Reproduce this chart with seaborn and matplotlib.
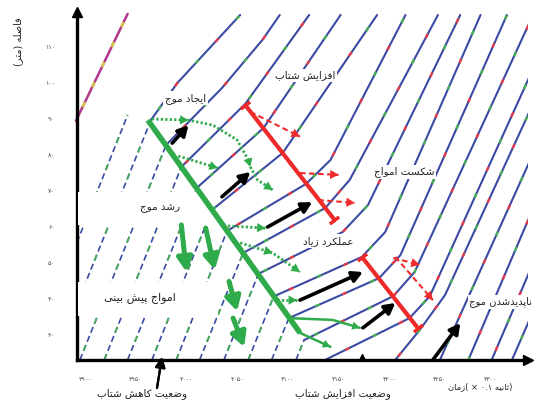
import matplotlib
matplotlib.use("Agg")
import matplotlib.pyplot as plt
from matplotlib.patches import Rectangle
from matplotlib.ticker import MultipleLocator
import pandas as pd
import seaborn as sns

# ---------------- vehicle trajectories: time (x0.1 s) and position (m) at path corners
traj_time = [
    [3846, 3942],
    [3870, 3965, 3991, 4053],
    [3895, 3980, 4035, 4075, 4092],
    [3919, 3995, 4058, 4121],
    [3942, 4010, 4076, 4152],
    [3966, 4025, 4095, 4188],
    [3990, 4040, 4118, 4142, 4216],
    [4013, 4056, 4137, 4161, 4248],
    [4037, 4071, 4154, 4179, 4270],
    [4061, 4086, 4173, 4196, 4290],
    [4084, 4101, 4190, 4211, 4316],
    [4108, 4116, 4204, 4225, 4339],
    [4137, 4220, 4240, 4339],
    [4206, 4230, 4255, 4339],
    [4250, 4339],
    [4278, 4339],
    [4301, 4339],
    [4321, 4339],
]
traj_dist = [
    [23.1, 91.1],
    [23.1, 89.7, 100.0, 118.9],
    [23.1, 82.8, 98.6, 112.0, 118.9],
    [23.1, 76.7, 94.2, 118.9],
    [23.1, 70.8, 87.5, 118.9],
    [23.1, 64.7, 80.6, 118.9],
    [23.1, 58.9, 72.0, 78.6, 118.9],
    [23.1, 52.8, 65.3, 73.1, 118.9],
    [23.1, 47.0, 58.6, 66.1, 118.9],
    [23.1, 40.7, 51.7, 58.6, 118.9],
    [23.1, 34.7, 45.8, 52.2, 118.9],
    [23.1, 28.6, 40.8, 47.5, 117.2],
    [23.1, 34.7, 40.8, 102.2],
    [23.1, 31.4, 41.1, 92.5],
    [23.1, 78.6],
    [23.1, 63.3],
    [23.1, 48.1],
    [23.1, 34.7],
]
# number of leading corners that lie on the approach (before the deceleration front)
approach_pts = [2, 2, 2, 2, 2, 2, 2, 2, 2, 2, 2, 2, 0, 0, 0, 0, 0, 0]

# second vehicle class
probe_time = [3891, 3942]
probe_dist = [89.5, 119.2]

# ---------------- wave fronts
decel_front_t = [3962, 4112]
decel_front_d = [89.7, 30.6]
accel_front_t = [[4058, 4146], [4173, 4228]]
accel_front_d = [[93.9, 62.0], [51.7, 32.0]]

# dotted growth paths leaving the deceleration front
spread_t = [[3966, 4002, 4026, 4050, 4061, 4063, 4070, 4085],
            [3992, 4031], [4041, 4078], [4053, 4085, 4112], [4089, 4109]]
spread_d = [[90.0, 89.7, 88.3, 84.2, 78.6, 76.7, 73.1, 70.3],
            [79.7, 76.4], [60.3, 59.7], [55.6, 52.8, 47.5], [39.7, 39.7]]
# thin solid green paths near the bottom of the front
tail_t = [[4101, 4144, 4171], [4112, 4142]]
tail_d = [[34.7, 34.2, 32.0], [30.6, 26.7]]

# predicted waves (green, downward)
pred_t0 = [3995, 4019, 4042, 4046]
pred_d0 = [60.6, 59.7, 44.9, 34.7]
pred_t1 = [4000, 4028, 4050, 4057]
pred_d1 = [47.5, 48.1, 36.6, 26.7]

# vehicle motion (black)
move_t0 = [3986, 4035, 4080, 4112, 4174, 4243]
move_d0 = [83.3, 68.4, 60.0, 39.7, 32.0, 23.1]
move_t1 = [4002, 4063, 4124, 4174, 4206, 4270]
move_d1 = [88.3, 75.3, 66.9, 47.5, 38.9, 33.3]

# wave break-up (red dashed)
break_t0 = [4063, 4112, 4130, 4206, 4204]
break_d0 = [92.0, 75.0, 67.5, 51.7, 51.4]
break_t1 = [4112, 4150, 4166, 4243, 4230]
break_d1 = [85.1, 74.5, 66.7, 39.7, 49.5]

xticks = [3900, 3950, 4000, 4050, 4100, 4150, 4200, 4250, 4300]
yticks = [30, 40, 50, 60, 70, 80, 90, 100, 110]

# ---------------- Persian text shaping (contextual forms, right-to-left)
FORMS = {
    "\u0627": ("\uFE8D", "\uFE8E"),
    "\u0628": ("\uFE8F", "\uFE90", "\uFE91", "\uFE92"),
    "\u067E": ("\uFB56", "\uFB57", "\uFB58", "\uFB59"),
    "\u062A": ("\uFE95", "\uFE96", "\uFE97", "\uFE98"),
    "\u062B": ("\uFE99", "\uFE9A", "\uFE9B", "\uFE9C"),
    "\u062C": ("\uFE9D", "\uFE9E", "\uFE9F", "\uFEA0"),
    "\u062F": ("\uFEA9", "\uFEAA"),
    "\u0631": ("\uFEAD", "\uFEAE"),
    "\u0632": ("\uFEAF", "\uFEB0"),
    "\u0633": ("\uFEB1", "\uFEB2", "\uFEB3", "\uFEB4"),
    "\u0634": ("\uFEB5", "\uFEB6", "\uFEB7", "\uFEB8"),
    "\u0635": ("\uFEB9", "\uFEBA", "\uFEBB", "\uFEBC"),
    "\u0636": ("\uFEBD", "\uFEBE", "\uFEBF", "\uFEC0"),
    "\u0639": ("\uFEC9", "\uFECA", "\uFECB", "\uFECC"),
    "\u0641": ("\uFED1", "\uFED2", "\uFED3", "\uFED4"),
    "\u06A9": ("\uFB8E", "\uFB8F", "\uFB90", "\uFB91"),
    "\u0644": ("\uFEDD", "\uFEDE", "\uFEDF", "\uFEE0"),
    "\u0645": ("\uFEE1", "\uFEE2", "\uFEE3", "\uFEE4"),
    "\u0646": ("\uFEE5", "\uFEE6", "\uFEE7", "\uFEE8"),
    "\u0647": ("\uFEE9", "\uFEEA", "\uFEEB", "\uFEEC"),
    "\u0648": ("\uFEED", "\uFEEE"),
    "\u06CC": ("\uFBFC", "\uFBFD", "\uFBFE", "\uFBFF"),
}


def shape(text):
    text = text.replace("\u064A", "\u06CC").replace("\u0643", "\u06A9")
    out = []
    for i, ch in enumerate(text):
        f = FORMS.get(ch)
        if f is None:
            out.append(ch)
            continue
        prev = text[i - 1] if i > 0 else ""
        nxt = text[i + 1] if i + 1 < len(text) else ""
        jp = prev in FORMS and len(FORMS[prev]) == 4
        jn = len(f) == 4 and nxt in FORMS
        out.append(f[3] if (jp and jn) else f[1] if jp else f[2] if jn else f[0])
    return "".join(out)


def rtl(text):
    return shape(text)[::-1].translate(str.maketrans("()", ")("))


def fa_num(v):
    return str(v).translate(str.maketrans("0123456789", "۰۱۲۳۴۵۶۷۸۹"))


# ---------------- figure
sns.set_theme(style="white")
plt.rcParams["font.family"] = ["DejaVu Sans"]
plt.rcParams["lines.scale_dashes"] = False

BLUE = "#3b4aa3"
RED = "#e23c4c"
GREEN = "#47ae55"
WAVE_GREEN = "#2fab4b"
WAVE_RED = "#ee2a2a"
INK = "#222222"

fig = plt.figure(figsize=(5.37, 4.01), dpi=100)
ax = fig.add_axes([77 / 537, 41 / 401, 451 / 537, 348 / 401])
ax.set_xlim(3892.1, 4336.8)
ax.set_ylim(23.06, 119.73)

app_rows, fol_rows = [], []
for k, (ts, ds) in enumerate(zip(traj_time, traj_dist)):
    n = approach_pts[k]
    for t, d in zip(ts[:n], ds[:n]):
        app_rows.append((k, t, d))
    s = max(n - 1, 0)
    if len(ts) - s >= 2:
        for t, d in zip(ts[s:], ds[s:]):
            fol_rows.append((k, t, d))
app_df = pd.DataFrame(app_rows, columns=["veh", "t", "d"])
fol_df = pd.DataFrame(fol_rows, columns=["veh", "t", "d"])

# approach legs: broken blue/green trace
sns.lineplot(data=app_df, x="t", y="d", units="veh", estimator=None, sort=False,
             color=BLUE, lw=1.2, linestyle=(0, (4.5, 2.5)), legend=False, ax=ax, zorder=2)
for k, g in app_df.groupby("veh"):
    ax.plot(g["t"], g["d"], color=GREEN, lw=1.3,
            linestyle=((k * 7) % 21, (4.5, 16.5)), zorder=2.1)

# remaining legs: blue with short acceleration-state marks
sns.lineplot(data=fol_df, x="t", y="d", units="veh", estimator=None, sort=False,
             color=BLUE, lw=1.5, legend=False, ax=ax, zorder=2)
for k, g in fol_df.groupby("veh"):
    off = (k * 13) % 43
    ax.plot(g["t"], g["d"], color=RED, lw=1.7, linestyle=(off, (3.5, 39.5)), zorder=2.1)
    ax.plot(g["t"], g["d"], color=GREEN, lw=1.7, linestyle=(off + 21, (3.5, 39.5)), zorder=2.1)

ax.plot(probe_time, probe_dist, color="#b0378e", lw=1.8, zorder=2, clip_on=False)
ax.plot(probe_time, probe_dist, color="#d8c64a", lw=1.9, linestyle=(5, (4, 12)), zorder=2.1,
        clip_on=False)

# white panels behind the two left captions
ax.add_patch(Rectangle((3893, 60.6), 132, 9.1, fc="white", ec="none", zorder=3))
ax.add_patch(Rectangle((3893, 35.3), 138, 9.4, fc="white", ec="none", zorder=3))


def head(p0, p1, color, scale, zo):
    ax.annotate("", xy=p1, xytext=p0, zorder=zo,
                arrowprops=dict(arrowstyle="-|>,head_length=0.55,head_width=0.3",
                                color=color, lw=0.01, shrinkA=0, shrinkB=0,
                                mutation_scale=scale))


def arrow(p0, p1, color, lw, scale, zo):
    ax.annotate("", xy=p1, xytext=p0, zorder=zo,
                arrowprops=dict(arrowstyle="-|>,head_length=0.55,head_width=0.3",
                                color=color, lw=lw, shrinkA=0, shrinkB=0,
                                mutation_scale=scale))


# wave fronts
ax.plot(decel_front_t, decel_front_d, color=WAVE_GREEN, lw=4.0, zorder=5,
        solid_capstyle="butt")
for ts, ds in zip(accel_front_t, accel_front_d):
    ax.plot(ts, ds, color=WAVE_RED, lw=3.0, zorder=5, solid_capstyle="butt")
    ax.plot(ts, ds, linestyle="none", marker=(2, 2, -52), ms=8, mew=2.2,
            color=WAVE_RED, zorder=5)

# green dotted growth paths
for ts, ds in zip(spread_t, spread_d):
    ax.plot(ts, ds, color=WAVE_GREEN, lw=2.0, linestyle=(0, (1.6, 1.6)), zorder=4)
    head((ts[-2], ds[-2]), (ts[-1], ds[-1]), WAVE_GREEN, 11, 4)
head((spread_t[0][0], spread_d[0][0]), (spread_t[0][1], spread_d[0][1]), WAVE_GREEN, 11, 4)
head((spread_t[0][4], spread_d[0][4]), (spread_t[0][5], spread_d[0][5]), WAVE_GREEN, 11, 4)
head((spread_t[3][0], spread_d[3][0]), (spread_t[3][1], spread_d[3][1]), WAVE_GREEN, 11, 4)

for ts, ds in zip(tail_t, tail_d):
    ax.plot(ts, ds, color=WAVE_GREEN, lw=1.8, zorder=4)
    head((ts[-2], ds[-2]), (ts[-1], ds[-1]), WAVE_GREEN, 10, 4)

for a, b, c, d in zip(pred_t0, pred_d0, pred_t1, pred_d1):
    arrow((a, b), (c, d), WAVE_GREEN, 3.6, 15, 6)

for a, b, c, d in zip(move_t0, move_d0, move_t1, move_d1):
    arrow((a, b), (c, d), "black", 2.6, 11, 6)

for a, b, c, d in zip(break_t0, break_d0, break_t1, break_d1):
    ax.plot([a, c], [b, d], color=WAVE_RED, lw=1.5, linestyle=(0, (4, 2.5)), zorder=5)
    head((a, b), (c, d), WAVE_RED, 11, 5)

# small marker on the time axis
ax.plot([4173], [23.8], marker="^", ms=4, color="black", zorder=6, clip_on=False)

# captions inside the plot
box = dict(boxstyle="square,pad=0.15", fc="white", ec="none")
cap = dict(fontsize=7.5, color=INK, ha="center", va="center", zorder=7)
ax.text(4117, 102.2, rtl("افزایش شتاب"), bbox=box, **cap)
ax.text(3999, 95.8, rtl("ایجاد موج"), bbox=box, **cap)
ax.text(4215, 75.3, rtl("شکست امواج"), bbox=box, **cap)
ax.text(3974, 65.3, rtl("رشد موج"), **cap)
ax.text(4140, 56.1, rtl("عملکرد زیاد"), bbox=box, **cap)
ax.text(3954, 40.3, rtl("امواج پیش بینی"), **{**cap, "fontsize": 8})
ax.text(4341, 39.2, rtl("ناپدیدشدن موج"), bbox=box, clip_on=False,
        **{**cap, "ha": "right", "fontsize": 7.2})

# axes
for side in ("top", "right"):
    ax.spines[side].set_visible(False)
for side in ("left", "bottom"):
    ax.spines[side].set_linewidth(2.4)
    ax.spines[side].set_color("black")
ax.plot(0, 1, marker="^", ms=7, color="black", transform=ax.transAxes, clip_on=False, zorder=8)
ax.plot(1, 0, marker=">", ms=7, color="black", transform=ax.transAxes, clip_on=False, zorder=8)

ax.set_xticks(xticks)
ax.set_xticklabels([fa_num(v) for v in xticks])
ax.set_yticks(yticks)
ax.set_yticklabels([fa_num(v) for v in yticks])
ax.xaxis.set_minor_locator(MultipleLocator(25))
ax.tick_params(axis="both", which="both", direction="in", colors="black",
               labelsize=4.5, labelcolor="#444444")
ax.tick_params(axis="both", which="major", length=3, width=0.8)
ax.tick_params(axis="x", which="minor", length=2, width=0.8)
ax.tick_params(axis="y", pad=16)
ax.tick_params(axis="x", pad=12)
ax.set_xlabel("")
ax.set_ylabel("")

# labels outside the plot
fig.text(18 / 537, 1 - 42 / 401, rtl("فاصله (متر)"), rotation=90, fontsize=7,
         color=INK, ha="center", va="center")
fig.text(142 / 537, 1 - 394 / 401, rtl("وضعیت کاهش شتاب"), fontsize=7.5,
         color=INK, ha="center", va="center")
fig.text(343 / 537, 1 - 394 / 401, rtl("وضعیت افزایش شتاب"), fontsize=7.5,
         color=INK, ha="center", va="center")
fig.text(480 / 537, 1 - 387 / 401,
         rtl("زمان") + "( × ۰.۱ " + rtl("ثانیه") + ")",
         fontsize=6, color=INK, ha="center", va="center")
fig.add_artist(plt.annotate("", xy=(162, 401 - 357), xytext=(157, 401 - 388),
                            xycoords="figure pixels", textcoords="figure pixels",
                            arrowprops=dict(arrowstyle="-|>,head_length=0.6,head_width=0.3",
                                            color="black", lw=1.6, shrinkA=0, shrinkB=0,
                                            mutation_scale=10)))

fig.savefig("out.png", dpi=100)
